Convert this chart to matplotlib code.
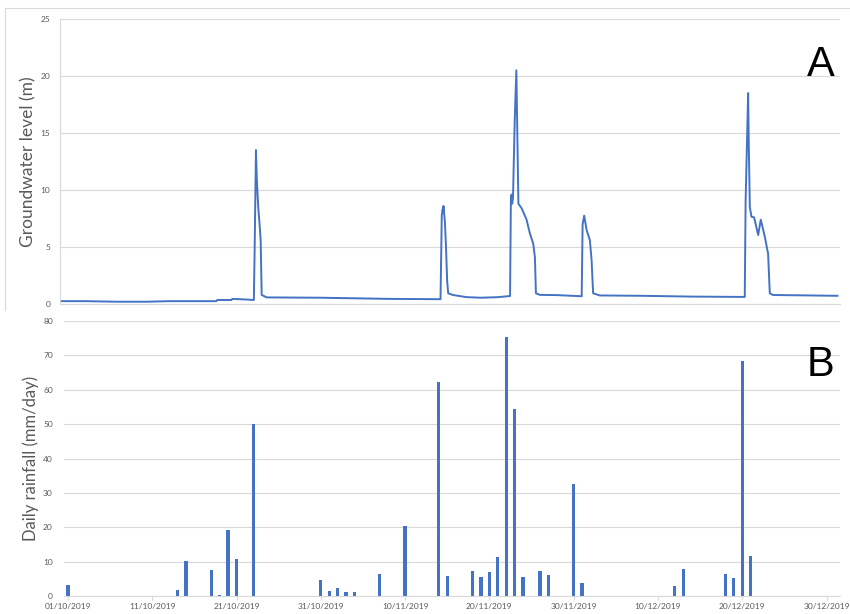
import numpy as np
import pandas as pd
import matplotlib
matplotlib.use('Agg')
import matplotlib.pyplot as plt
import matplotlib.dates as mdates
from matplotlib.lines import Line2D

# Daily rainfall (mm/day)
rain_dates = ['2019-10-01', '2019-10-14', '2019-10-15', '2019-10-18', '2019-10-19',
              '2019-10-20', '2019-10-21', '2019-10-23', '2019-10-31', '2019-11-01',
              '2019-11-02', '2019-11-03', '2019-11-04', '2019-11-07', '2019-11-10',
              '2019-11-14', '2019-11-15', '2019-11-18', '2019-11-19', '2019-11-20',
              '2019-11-21', '2019-11-22', '2019-11-23', '2019-11-24', '2019-11-26',
              '2019-11-27', '2019-11-30', '2019-12-01', '2019-12-12', '2019-12-13',
              '2019-12-18', '2019-12-19', '2019-12-20', '2019-12-21']
rain_mm = [3.2, 1.8, 10.1, 7.5, 0.3, 19.2, 10.9, 50.0, 4.6, 1.4,
           2.2, 1.2, 1.2, 6.4, 20.4, 62.2, 5.8, 7.4, 5.6, 7.0,
           11.4, 75.3, 54.5, 5.4, 7.2, 6.2, 32.6, 3.8, 2.8, 7.9,
           6.4, 5.3, 68.4, 11.7]

# Groundwater level (m), time in days since 01/10/2019
gw_day = [-0.95, 2.0, 5.8, 9.4, 12.0, 17.6, 17.7, 19.4, 19.5, 21.0, 22.05,
          22.15, 22.3, 22.4, 22.57, 22.75, 22.86, 22.98, 23.57, 30.0, 38.0,
          44.2, 44.35, 44.45, 44.5, 44.55, 44.72, 44.84, 44.99, 45.11, 45.67,
          47.3, 49.0, 51.0, 52.45, 52.55, 52.63, 52.7, 52.8, 53.0, 53.2, 53.3,
          53.44, 53.82, 54.41, 54.8, 55.2, 55.4, 55.52, 55.99, 58.0, 60.95,
          61.06, 61.25, 61.53, 61.92, 62.12, 62.31, 63.1, 68.0, 74.0, 80.3,
          80.4, 80.7, 80.78, 80.9, 81.1, 81.41, 81.89, 82.2, 82.68, 83.07,
          83.27, 83.66, 88.0, 91.3]
gw_level = [0.25, 0.25, 0.2, 0.2, 0.25, 0.25, 0.35, 0.35, 0.45, 0.4, 0.35,
            5.0, 13.5, 11.0, 8.5, 6.8, 5.6, 0.8, 0.58, 0.55, 0.45,
            0.42, 7.8, 8.3, 8.1, 8.6, 7.2, 5.2, 2.0, 0.94, 0.79,
            0.6, 0.55, 0.6, 0.7, 9.2, 9.6, 8.8, 9.3, 16.0, 20.5, 15.6,
            8.8, 8.4, 7.4, 6.2, 5.3, 4.1, 0.94, 0.8, 0.78, 0.68,
            7.0, 7.75, 6.5, 5.6, 3.9, 0.94, 0.75, 0.72, 0.65, 0.62,
            9.0, 18.5, 13.8, 8.5, 7.65, 7.6, 6.05, 7.4, 5.9, 4.4,
            0.94, 0.79, 0.75, 0.72]

tick_dates = ['2019-10-01', '2019-10-11', '2019-10-21', '2019-10-31', '2019-11-10',
              '2019-11-20', '2019-11-30', '2019-12-10', '2019-12-20', '2019-12-30']

BLUE = '#4472C4'
GRID = '#d9d9d9'
TXT = '#595959'
plt.rcParams['font.family'] = ['Lato', 'DejaVu Sans']

start = mdates.date2num(pd.Timestamp('2019-10-01'))
rain_x = mdates.date2num(pd.to_datetime(rain_dates))
gw_x = start + np.array(gw_day)
ticks_x = mdates.date2num(pd.to_datetime(tick_dates))

fig = plt.figure(figsize=(8.5, 6.14), dpi=100)

# chart frame of the top panel
fig.add_artist(Line2D([5 / 850, 5 / 850], [1 - 8 / 614, 1 - 310 / 614], color=GRID, lw=0.8))
fig.add_artist(Line2D([5 / 850, 1.0], [1 - 8 / 614, 1 - 8 / 614], color=GRID, lw=0.8))

# --- A: groundwater level
ax1 = fig.add_axes([60 / 850, 1 - 304 / 614, 780 / 850, 285 / 614])
ax1.plot(gw_x, gw_level, color=BLUE, lw=1.4)
ax1.set_xlim(start - 0.95, start + 91.6)
ax1.set_ylim(0, 25)
ax1.set_yticks(range(0, 26, 5))
ax1.set_xticks([])
ax1.grid(axis='y', color=GRID, lw=0.8)
ax1.set_axisbelow(True)
for s in ['top', 'right']:
    ax1.spines[s].set_visible(False)
for s in ['left', 'bottom']:
    ax1.spines[s].set_color(GRID)
    ax1.spines[s].set_linewidth(0.8)
ax1.tick_params(axis='y', length=0, labelsize=6, labelcolor=TXT, pad=7)
ax1.set_ylabel('Groundwater level (m)', fontsize=12.5, color=TXT, labelpad=3)
ax1.text(0.975, 0.84, 'A', transform=ax1.transAxes, fontsize=30,
         family='Liberation Sans', ha='center', va='center')

# --- B: daily rainfall
ax2 = fig.add_axes([64 / 850, 1 - 596 / 614, 776 / 850, 275 / 614])
ax2.bar(rain_x, rain_mm, width=0.38, color=BLUE)
ax2.set_xlim(start - 0.47, start + 91.6)
ax2.set_ylim(0, 80)
ax2.set_yticks(range(0, 81, 10))
ax2.set_xticks(ticks_x)
ax2.xaxis.set_major_formatter(mdates.DateFormatter('%d/%m/%Y'))
ax2.grid(axis='y', color=GRID, lw=0.8)
ax2.set_axisbelow(True)
for s in ['top', 'right', 'left']:
    ax2.spines[s].set_visible(False)
ax2.spines['bottom'].set_color(GRID)
ax2.spines['bottom'].set_linewidth(0.8)
ax2.tick_params(axis='y', length=0, labelsize=6, labelcolor=TXT, pad=8)
ax2.tick_params(axis='x', length=3, color=GRID, labelsize=6, labelcolor=TXT, pad=2)
ax2.set_ylabel('Daily rainfall (mm/day)', fontsize=12, color=TXT, labelpad=3)
ax2.text(0.975, 0.84, 'B', transform=ax2.transAxes, fontsize=30,
         family='Liberation Sans', ha='center', va='center')

fig.savefig('out.png', dpi=100)
